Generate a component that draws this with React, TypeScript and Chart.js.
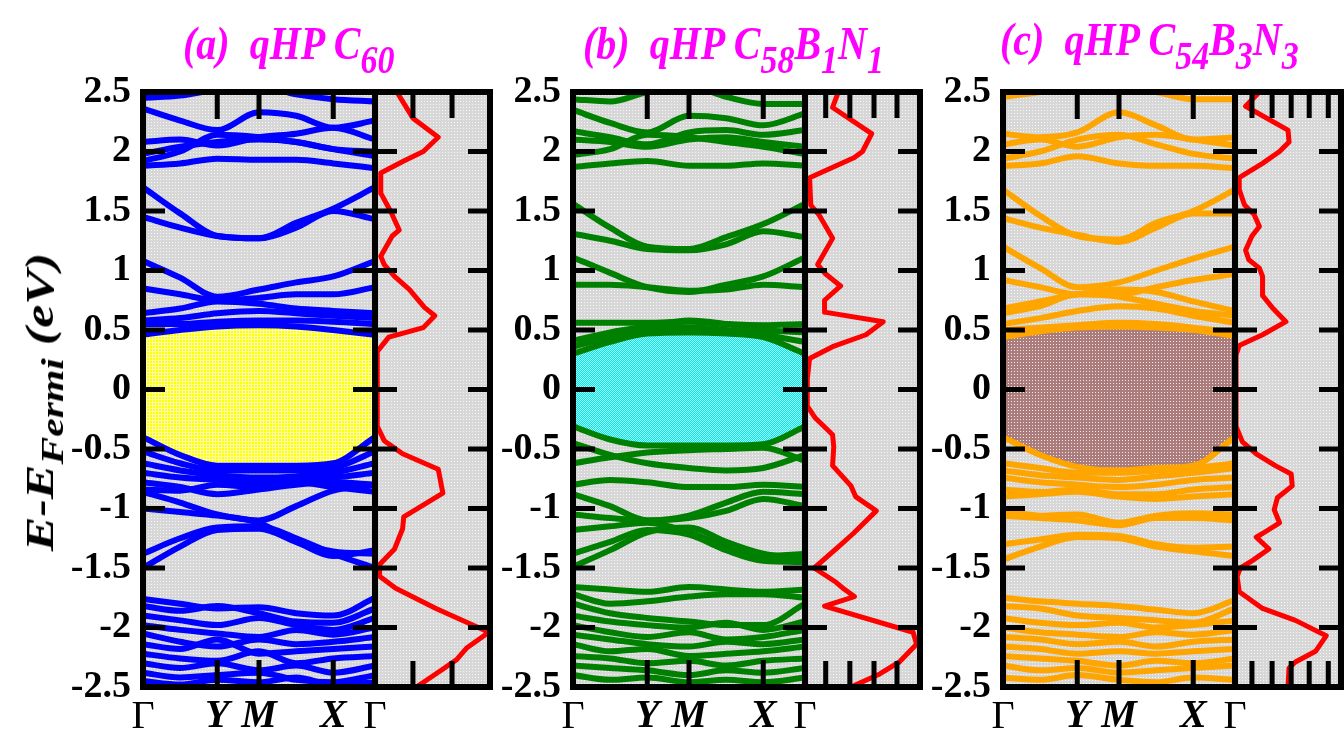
import React, { useEffect, useRef } from "react";
import { Chart, registerables } from "chart.js";
Chart.register(...registerables);

const SERIF = "'Liberation Serif', 'Times New Roman', Times, serif";

// ---- k-path and ticks ----
const kPoints = [0, 0.16, 0.32, 0.5, 0.66, 0.82, 1];
const kTickValues = [0, 0.32, 0.5, 0.82, 1];
const kTickLabels = ["Γ", "Y", "M", "X", "Γ"];
const energyTicks = [-2.5, -2, -1.5, -1, -0.5, 0, 0.5, 1, 1.5, 2, 2.5];

// ---- panel (a) qHP C60 ----
const condBandsA = [
  [0.46, 0.5, 0.53, 0.54, 0.53, 0.5, 0.46],
  [0.55, 0.55, 0.57, 0.58, 0.58, 0.57, 0.55],
  [0.58, 0.6, 0.64, 0.66, 0.64, 0.62, 0.6],
  [0.64, 0.68, 0.74, 0.72, 0.68, 0.66, 0.64],
  [0.85, 0.8, 0.75, 0.77, 0.8, 0.8, 0.86],
  [1.08, 0.94, 0.78, 0.84, 0.9, 0.95, 1.08],
  [1.45, 1.36, 1.29, 1.27, 1.36, 1.5, 1.43],
  [1.7, 1.48, 1.29, 1.27, 1.4, 1.52, 1.7],
  [1.88, 1.9, 1.94, 1.93, 1.93, 1.9, 1.86],
  [1.92, 2.0, 2.14, 2.12, 2.08, 2.02, 1.96],
  [1.98, 2.04, 2.08, 2.1, 2.08, 2.02, 2.0],
  [2.08, 2.1, 2.05, 2.12, 2.15, 2.2, 2.1],
  [2.36, 2.26, 2.18, 2.33, 2.3, 2.2, 2.26],
  [2.45, 2.47, 2.52, 2.55, 2.48, 2.44, 2.42],
];
const valBandsA = [
  [-0.4, -0.55, -0.64, -0.64, -0.64, -0.62, -0.4],
  [-0.52, -0.62, -0.68, -0.68, -0.68, -0.66, -0.52],
  [-0.62, -0.68, -0.72, -0.74, -0.73, -0.7, -0.62],
  [-0.7, -0.74, -0.76, -0.77, -0.76, -0.74, -0.7],
  [-0.78, -0.82, -0.88, -0.84, -0.8, -0.78, -0.8],
  [-0.84, -0.85, -0.8, -0.82, -0.78, -0.82, -0.86],
  [-0.86, -0.95, -1.05, -1.1, -0.98, -0.85, -0.8],
  [-1.0, -1.03, -1.06, -1.12, -1.28, -1.36, -1.38],
  [-1.38, -1.25, -1.16, -1.15, -1.25, -1.38, -1.5],
  [-1.5, -1.32, -1.18, -1.17, -1.28, -1.4, -1.35],
  [-1.76, -1.8, -1.84, -1.83, -1.88, -1.9, -1.75],
  [-1.82, -1.86, -1.82, -1.88, -1.95, -1.96, -1.84],
  [-1.9, -1.94, -1.98, -1.92, -1.98, -2.02, -1.92],
  [-1.98, -2.02, -2.05, -2.08, -2.02, -2.06, -2.0],
  [-2.05, -2.12, -2.16, -2.1, -2.14, -2.12, -2.08],
  [-2.14, -2.18, -2.1, -2.22, -2.2, -2.18, -2.16],
  [-2.22, -2.26, -2.28, -2.2, -2.3, -2.26, -2.24],
  [-2.3, -2.34, -2.3, -2.36, -2.32, -2.38, -2.32],
  [-2.38, -2.42, -2.4, -2.38, -2.44, -2.46, -2.4],
  [-2.45, -2.48, -2.44, -2.46, -2.42, -2.48, -2.46],
];
const dosEnergyA = [2.5, 2.28, 2.12, 2.0, 1.92, 1.82, 1.65, 1.49, 1.34, 1.29, 1.12, 1.05, 0.95, 0.84, 0.69, 0.62, 0.52, 0.44, 0.32, -0.31, -0.43, -0.54, -0.67, -0.87, -1.07, -1.17, -1.34, -1.47, -1.57, -1.67, -1.84, -2.04, -2.17, -2.27, -2.37, -2.5];
const dosValueA = [0.19, 0.33, 0.55, 0.42, 0.25, 0.05, 0.05, 0.14, 0.21, 0.15, 0.05, 0.08, 0.17, 0.3, 0.43, 0.52, 0.42, 0.12, 0.02, 0.02, 0.08, 0.24, 0.55, 0.59, 0.25, 0.24, 0.17, 0.04, 0.04, 0.18, 0.53, 0.99, 0.8, 0.71, 0.56, 0.36];
const dosTicksA = [0.33, 0.67];

// ---- panel (b) qHP C58B1N1 ----
const condBandsB = [
  [0.3, 0.4, 0.47, 0.48, 0.47, 0.44, 0.3],
  [0.36, 0.44, 0.5, 0.52, 0.5, 0.46, 0.4],
  [0.41, 0.48, 0.53, 0.58, 0.55, 0.5, 0.48],
  [0.56, 0.56, 0.56, 0.57, 0.55, 0.54, 0.55],
  [0.88, 0.88, 0.86, 0.83, 0.84, 0.88, 0.86],
  [1.11, 0.98, 0.86, 0.82, 0.88, 0.95, 1.11],
  [1.31, 1.25, 1.18, 1.17, 1.22, 1.33, 1.28],
  [1.56, 1.36, 1.2, 1.18, 1.28, 1.39, 1.56],
  [1.87, 1.9, 1.92, 1.88, 1.88, 1.9, 1.88],
  [1.97, 2.02, 2.14, 2.12, 2.08, 2.04, 1.98],
  [2.1, 2.08, 2.04, 2.1, 2.12, 2.08, 2.04],
  [2.17, 2.12, 2.06, 2.16, 2.18, 2.14, 2.18],
  [2.35, 2.24, 2.16, 2.3, 2.28, 2.22, 2.32],
  [2.44, 2.42, 2.5, 2.55, 2.46, 2.4, 2.4],
];
const valBandsB = [
  [-0.31, -0.42, -0.47, -0.47, -0.47, -0.46, -0.31],
  [-0.62, -0.57, -0.53, -0.51, -0.5, -0.49, -0.6],
  [-0.45, -0.55, -0.62, -0.66, -0.68, -0.66, -0.55],
  [-0.8, -0.76, -0.78, -0.82, -0.82, -0.8, -0.82],
  [-0.88, -0.98, -1.1, -1.06, -0.95, -0.86, -0.88],
  [-1.05, -1.08, -1.1, -1.08, -1.02, -0.92, -0.98],
  [-1.18, -1.15, -1.12, -1.2, -1.32, -1.4, -1.38],
  [-1.38, -1.28, -1.18, -1.22, -1.35, -1.44, -1.45],
  [-1.49, -1.35, -1.2, -1.16, -1.28, -1.38, -1.42],
  [-1.66, -1.68, -1.7, -1.66, -1.68, -1.7, -1.68],
  [-1.72, -1.8, -1.78, -1.74, -1.72, -1.72, -1.75],
  [-1.8, -1.88, -1.92, -1.95, -1.98, -1.98, -1.8],
  [-1.9, -1.95, -1.98, -2.0, -1.96, -2.02, -1.95],
  [-1.98, -2.04, -2.08, -2.04, -2.1, -2.08, -2.02],
  [-2.06, -2.1, -2.14, -2.16, -2.12, -2.14, -2.1],
  [-2.14, -2.2, -2.18, -2.24, -2.22, -2.2, -2.16],
  [-2.24, -2.26, -2.3, -2.28, -2.32, -2.28, -2.26],
  [-2.32, -2.34, -2.36, -2.4, -2.36, -2.38, -2.34],
  [-2.4, -2.44, -2.42, -2.46, -2.44, -2.46, -2.42],
];
const dosEnergyB = [2.5, 2.37, 2.15, 2.0, 1.95, 1.78, 1.55, 1.47, 1.27, 1.05, 0.97, 0.87, 0.75, 0.65, 0.57, 0.46, 0.36, 0.26, 0.09, -0.14, -0.24, -0.38, -0.48, -0.64, -0.81, -0.9, -1.02, -1.21, -1.34, -1.5, -1.62, -1.67, -1.74, -1.82, -2.04, -2.14, -2.29, -2.39, -2.5];
const dosValueB = [0.29, 0.24, 0.58, 0.5, 0.43, 0.04, 0.05, 0.12, 0.24, 0.11, 0.18, 0.31, 0.17, 0.17, 0.68, 0.53, 0.24, 0.04, 0.02, 0.02, 0.09, 0.24, 0.25, 0.24, 0.4, 0.44, 0.62, 0.42, 0.27, 0.08, 0.27, 0.33, 0.43, 0.17, 0.94, 0.97, 0.82, 0.65, 0.4];
const dosTicksB = [0.18, 0.39, 0.6, 0.8];

// ---- panel (c) qHP C54B3N3 ----
const condBandsC = [
  [0.44, 0.49, 0.52, 0.53, 0.52, 0.5, 0.45],
  [0.5, 0.52, 0.54, 0.56, 0.55, 0.52, 0.48],
  [0.55, 0.6, 0.66, 0.7, 0.68, 0.62, 0.56],
  [0.64, 0.7, 0.8, 0.78, 0.72, 0.66, 0.62],
  [0.68, 0.74, 0.8, 0.84, 0.82, 0.74, 0.66],
  [0.92, 0.86, 0.8, 0.8, 0.86, 0.92, 0.97],
  [1.2, 1.02, 0.86, 0.9, 1.0, 1.1, 1.2],
  [1.44, 1.36, 1.3, 1.24, 1.36, 1.48, 1.48],
  [1.68, 1.46, 1.29, 1.26, 1.4, 1.5, 1.68],
  [1.88, 1.9, 1.96, 1.9, 1.88, 1.88, 1.86],
  [1.94, 2.0, 2.1, 2.14, 2.06, 1.98, 1.94],
  [2.06, 2.1, 2.04, 2.12, 2.14, 2.1, 2.05],
  [2.15, 2.12, 2.16, 2.33, 2.22, 2.1, 2.12],
  [2.46, 2.5, 2.55, 2.55, 2.5, 2.44, 2.44],
];
const valBandsC = [
  [-0.4, -0.55, -0.65, -0.68, -0.66, -0.64, -0.4],
  [-0.62, -0.66, -0.7, -0.7, -0.68, -0.66, -0.62],
  [-0.68, -0.72, -0.74, -0.76, -0.73, -0.7, -0.66],
  [-0.74, -0.78, -0.8, -0.82, -0.8, -0.76, -0.74],
  [-0.84, -0.86, -0.84, -0.88, -0.88, -0.84, -0.82],
  [-0.9, -0.88, -0.86, -0.9, -0.92, -0.9, -0.88],
  [-1.02, -1.06, -1.05, -1.12, -1.06, -1.04, -1.05],
  [-1.06, -1.08, -1.1, -1.14, -1.08, -1.08, -1.1],
  [-1.3, -1.26, -1.22, -1.23, -1.3, -1.33, -1.32],
  [-1.43, -1.32, -1.24, -1.25, -1.32, -1.36, -1.4],
  [-1.75, -1.78, -1.8, -1.82, -1.85, -1.88, -1.77],
  [-1.82, -1.84, -1.9, -1.92, -1.94, -1.96, -1.84],
  [-1.92, -1.96, -1.98, -1.96, -2.0, -1.98, -1.94],
  [-2.0, -2.04, -2.06, -2.08, -2.04, -2.06, -2.02],
  [-2.08, -2.1, -2.14, -2.12, -2.16, -2.12, -2.1],
  [-2.16, -2.18, -2.22, -2.2, -2.22, -2.2, -2.18],
  [-2.24, -2.26, -2.28, -2.32, -2.28, -2.3, -2.26],
  [-2.32, -2.36, -2.34, -2.38, -2.36, -2.34, -2.32],
  [-2.42, -2.44, -2.4, -2.44, -2.46, -2.42, -2.44],
];
const dosEnergyC = [2.5, 2.38, 2.18, 2.08, 2.0, 1.9, 1.78, 1.68, 1.55, 1.47, 1.37, 1.29, 1.17, 1.09, 1.02, 0.95, 0.79, 0.69, 0.57, 0.46, 0.37, 0.29, -0.31, -0.44, -0.54, -0.64, -0.71, -0.81, -0.91, -1.01, -1.12, -1.21, -1.24, -1.34, -1.44, -1.5, -1.57, -1.7, -1.84, -1.94, -2.07, -2.2, -2.29, -2.34, -2.5];
const dosValueC = [0.23, 0.1, 0.5, 0.51, 0.42, 0.26, 0.04, 0.04, 0.09, 0.18, 0.23, 0.16, 0.1, 0.13, 0.23, 0.26, 0.26, 0.35, 0.48, 0.26, 0.04, 0.01, 0.01, 0.07, 0.2, 0.38, 0.53, 0.54, 0.4, 0.37, 0.42, 0.26, 0.2, 0.32, 0.16, 0.05, 0.02, 0.04, 0.26, 0.57, 0.86, 0.76, 0.57, 0.51, 0.5];
const dosTicksC = [0.16, 0.35, 0.53, 0.7, 0.88];

// ---- layout (positions/styles) ----
const AXIS_W = 140;
const PAD_TOP = 40;
const TOP = 92 - PAD_TOP;
const X_AXIS_H = 51;
const CANVAS_H = 738 - TOP;
const PANELS = [
  { left: 143, width: 232, dosWidth: 115, cond: condBandsA, val: valBandsA, dosE: dosEnergyA, dosV: dosValueA, dosTicks: dosTicksA, color: "#0000ff", gap: "yellow" },
  { left: 573, width: 232, dosWidth: 115, cond: condBandsB, val: valBandsB, dosE: dosEnergyB, dosV: dosValueB, dosTicks: dosTicksB, color: "#008000", gap: "cyan" },
  { left: 1003, width: 232, dosWidth: 106, cond: condBandsC, val: valBandsC, dosE: dosEnergyC, dosV: dosValueC, dosTicks: dosTicksC, color: "#ffa500", gap: "brown" },
];

function makePattern(kind: string): any {
  const c = document.createElement("canvas");
  c.width = 3;
  c.height = 3;
  let g = c.getContext("2d") as CanvasRenderingContext2D;
  const fill = (col: string, x: number, y: number, w: number, h: number) => {
    g.fillStyle = col;
    g.fillRect(x, y, w, h);
  };
  if (kind === "bg") {
    fill("#d7d7d7", 0, 0, 3, 3);
    fill("#f6f6f6", 1, 1, 1, 1);
  } else if (kind === "yellow") {
    fill("#ffffb0", 0, 0, 3, 3);
    fill("#ffff00", 0, 0, 2, 2);
  } else if (kind === "cyan") {
    c.width = 2;
    c.height = 2;
    g = c.getContext("2d") as CanvasRenderingContext2D;
    fill("#a8fcfc", 0, 0, 2, 2);
    fill("#00e8e8", 0, 0, 1, 1);
    fill("#00e8e8", 1, 1, 1, 1);
  } else {
    fill("#aa7c7c", 0, 0, 3, 3);
    fill("#f4e8e8", 1, 1, 1, 1);
  }
  return g.createPattern(c, "repeat");
}

function bgPlugin(pattern: any) {
  return {
    id: "bgfill",
    beforeDraw(chart: any) {
      const { ctx, chartArea: a } = chart;
      ctx.save();
      ctx.fillStyle = pattern;
      ctx.fillRect(a.left, a.top, a.right - a.left, a.bottom - a.top);
      ctx.restore();
    },
  };
}

function framePlugin(xMarks: number[], sideLen: number, tbLen: number) {
  return {
    id: "frame",
    afterDraw(chart: any) {
      const { ctx, chartArea: a, scales } = chart;
      ctx.save();
      ctx.strokeStyle = "#000";
      ctx.lineWidth = 5;
      ctx.beginPath();
      energyTicks.forEach((e) => {
        const y = scales.y.getPixelForValue(e);
        ctx.moveTo(a.left, y);
        ctx.lineTo(a.left + sideLen, y);
        ctx.moveTo(a.right, y);
        ctx.lineTo(a.right - sideLen, y);
      });
      xMarks.forEach((v) => {
        const x = scales.x.getPixelForValue(v);
        ctx.moveTo(x, a.top);
        ctx.lineTo(x, a.top + tbLen);
        ctx.moveTo(x, a.bottom);
        ctx.lineTo(x, a.bottom - tbLen);
      });
      ctx.stroke();
      ctx.lineWidth = 6;
      ctx.strokeRect(a.left, a.top, a.right - a.left, a.bottom - a.top);
      ctx.restore();
    },
  };
}

function bandLine(vals: number[]) {
  return kPoints.map((x, i) => ({ x, y: vals[i] }));
}

function bandConfig(p: any, bg: any): any {
  const common = {
    borderColor: p.color,
    borderWidth: 6,
    pointRadius: 0,
    cubicInterpolationMode: "monotone",
    borderJoinStyle: "round",
  };
  const datasets: any[] = [];
  datasets.push({ ...common, data: bandLine(p.val[0]), fill: "+1", backgroundColor: makePattern(p.gap) });
  datasets.push({ ...common, data: bandLine(p.cond[0]), fill: false });
  p.cond.slice(1).forEach((b: number[]) => datasets.push({ ...common, data: bandLine(b), fill: false }));
  p.val.slice(1).forEach((b: number[]) => datasets.push({ ...common, data: bandLine(b), fill: false }));
  return {
    type: "line",
    data: { datasets },
    options: {
      animation: false,
      responsive: false,
      maintainAspectRatio: false,
      events: [],
      layout: { padding: { top: PAD_TOP, right: 20, left: 0, bottom: 0 } },
      plugins: {
        legend: { display: false },
        tooltip: { enabled: false },
        filler: { drawTime: "beforeDatasetsDraw" },
      },
      scales: {
        x: {
          type: "linear",
          min: 0,
          max: 1,
          grid: { display: false, drawTicks: false },
          border: { display: false },
          afterBuildTicks: (s: any) => {
            s.ticks = kTickValues.map((v) => ({ value: v }));
          },
          afterFit: (s: any) => {
            s.height = X_AXIS_H;
          },
          ticks: {
            autoSkip: false,
            maxRotation: 0,
            padding: 6,
            color: "#000",
            callback: (_v: any, i: number) => kTickLabels[i],
            font: (c: any) =>
              kTickLabels[c.index] === "Γ"
                ? { family: SERIF, size: 40, weight: "normal", style: "normal" }
                : { family: SERIF, size: 40, weight: "bold", style: "italic" },
          },
        },
        y: {
          type: "linear",
          min: -2.5,
          max: 2.5,
          grid: { display: false, drawTicks: false },
          border: { display: false },
          afterBuildTicks: (s: any) => {
            s.ticks = energyTicks.map((v) => ({ value: v }));
          },
          afterFit: (s: any) => {
            s.width = AXIS_W;
          },
          ticks: {
            padding: 12,
            color: "#000",
            font: { family: SERIF, size: 38, weight: "bold" },
            callback: (v: any) => String(Math.round(Number(v) * 10) / 10),
          },
        },
      },
    },
    plugins: [bgPlugin(bg), framePlugin(kTickValues.slice(1, -1), 22, 27)],
  };
}

function dosConfig(p: any, bg: any): any {
  return {
    type: "scatter",
    data: {
      datasets: [
        {
          data: p.dosE.map((e: number, i: number) => ({ x: p.dosV[i], y: e })),
          showLine: true,
          borderColor: "#ff0000",
          borderWidth: 5,
          pointRadius: 0,
          tension: 0,
          borderJoinStyle: "round",
          fill: false,
        },
      ],
    },
    options: {
      animation: false,
      responsive: false,
      maintainAspectRatio: false,
      events: [],
      layout: { padding: { top: PAD_TOP, right: 6, left: 6, bottom: X_AXIS_H } },
      plugins: { legend: { display: false }, tooltip: { enabled: false } },
      scales: {
        x: { type: "linear", min: 0, max: 1, display: false },
        y: { type: "linear", min: -2.5, max: 2.5, display: false },
      },
    },
    plugins: [bgPlugin(bg), framePlugin(p.dosTicks, 22, 26)],
  };
}

const titleStyle: React.CSSProperties = {
  position: "absolute",
  color: "#ff00ff",
  fontFamily: SERIF,
  fontWeight: "bold",
  fontStyle: "italic",
  fontSize: 40,
  lineHeight: "40px",
  whiteSpace: "pre",
  transform: "scaleY(1.15)",
  transformOrigin: "0 34px",
};
const subStyle: React.CSSProperties = { fontSize: 34, verticalAlign: "-12px" };

export default function App() {
  const bandRefs = useRef<(HTMLCanvasElement | null)[]>([]);
  const dosRefs = useRef<(HTMLCanvasElement | null)[]>([]);

  useEffect(() => {
    const charts: Chart[] = [];
    const bg = makePattern("bg");
    PANELS.forEach((p, i) => {
      const bc = bandRefs.current[i];
      const dc = dosRefs.current[i];
      if (dc) charts.push(new Chart(dc, dosConfig(p, bg)));
      if (bc) charts.push(new Chart(bc, bandConfig(p, bg)));
    });
    return () => charts.forEach((c) => c.destroy());
  }, []);

  return (
    <div style={{ position: "absolute", left: 0, top: 0, width: 1344, height: 738, overflow: "hidden", background: "#fff" }}>
      {PANELS.map((p, i) => {
        const dw = p.dosWidth + 12;
        const bw = AXIS_W + p.width + 20;
        return (
          <React.Fragment key={i}>
            <canvas
              ref={(el) => {
                dosRefs.current[i] = el;
              }}
              width={dw}
              height={CANVAS_H}
              style={{ position: "absolute", left: p.left + p.width - 6, top: TOP, width: dw, height: CANVAS_H }}
            />
            <canvas
              ref={(el) => {
                bandRefs.current[i] = el;
              }}
              width={bw}
              height={CANVAS_H}
              style={{ position: "absolute", left: p.left - AXIS_W, top: TOP, width: bw, height: CANVAS_H }}
            />
          </React.Fragment>
        );
      })}

      <div style={{ ...titleStyle, left: 183, top: 26 }}>
        {"(a)  qHP C"}
        <span style={subStyle}>60</span>
      </div>
      <div style={{ ...titleStyle, left: 583, top: 26 }}>
        {"(b)  qHP C"}
        <span style={subStyle}>58</span>B<span style={subStyle}>1</span>N<span style={subStyle}>1</span>
      </div>
      <div style={{ ...titleStyle, left: 1000, top: 22 }}>
        {"(c)  qHP C"}
        <span style={subStyle}>54</span>B<span style={subStyle}>3</span>N<span style={subStyle}>3</span>
      </div>

      <div style={{ position: "absolute", left: 46, top: 402, width: 0, height: 0 }}>
        <div
          style={{
            position: "absolute",
            left: 0,
            top: 0,
            transform: "translate(-50%, -50%) rotate(-90deg) scaleX(1.3)",
            whiteSpace: "nowrap",
            fontFamily: SERIF,
            fontWeight: "bold",
            fontStyle: "italic",
            fontSize: 40,
            lineHeight: "40px",
            color: "#000",
          }}
        >
          E-E<span style={{ fontSize: 32, verticalAlign: "-10px" }}>Fermi</span> (eV)
        </div>
      </div>
    </div>
  );
}
